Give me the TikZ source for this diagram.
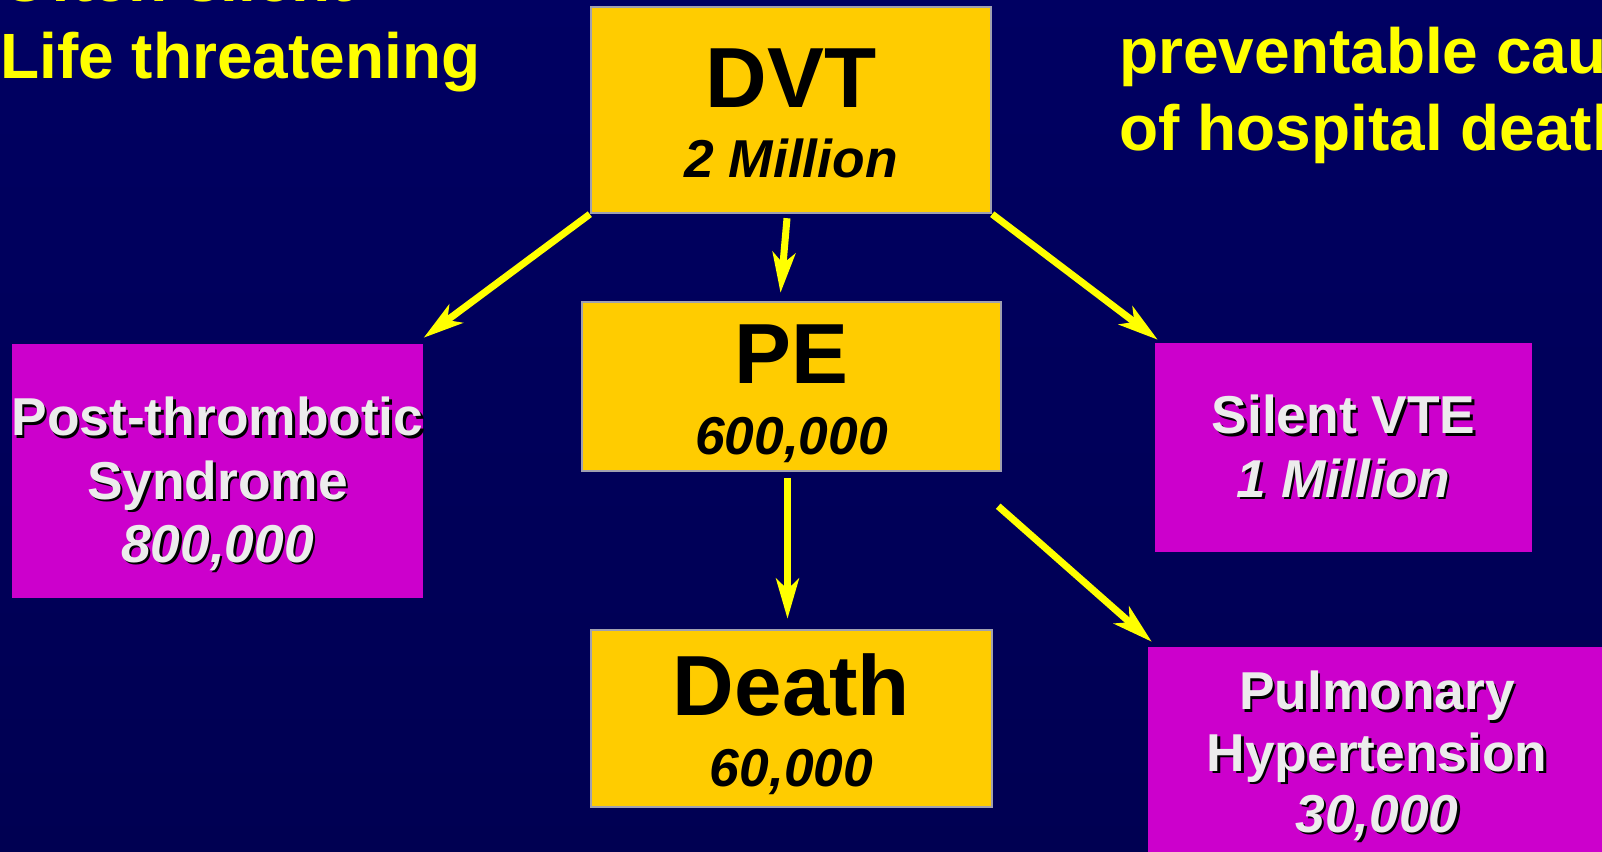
\documentclass[tikz,border=0pt]{standalone}
\usepackage{fontspec}
\setmainfont{Liberation Sans}
\usepackage{tikz}
\usepackage{xcolor}
\usetikzlibrary{arrows.meta}

\definecolor{bgtop}{RGB}{0,0,98}
\definecolor{bgbot}{RGB}{0,0,82}
\definecolor{boxyellow}{RGB}{255,204,0}
\definecolor{boxgray}{RGB}{160,160,176}
\definecolor{boxpink}{RGB}{204,0,204}
\definecolor{softwhite}{RGB}{236,236,236}
\definecolor{arrowyellow}{RGB}{255,255,0}

% struts keep the two lines of the yellow boxes where they should sit
\newcommand{\bigtxt}{\fontsize{64}{53}\selectfont\rule{0pt}{56.75pt}}
\newcommand{\numtxt}{\fontsize{40}{53}\selectfont\itshape\rule[-8pt]{0pt}{8pt}}
\newcommand{\shad}[1]{\makebox[0pt][l]{\hspace{1.8pt}\raisebox{-1.8pt}{\color{black}#1}}#1}

\begin{document}
\begin{tikzpicture}[x=0.75pt,y=-0.75pt,
    head/.style={text=arrowyellow, font=\bfseries\fontsize{48}{57.75}\selectfont, align=left, inner sep=0pt},
    yellowbox/.style={fill=boxyellow, draw=boxgray, line width=1.8pt, align=center, inner sep=0pt,
       text=black, font=\bfseries\fontsize{40}{53}\selectfont},
    pinkbox/.style={fill=boxpink, align=center, inner sep=0pt, text=softwhite,
       font=\bfseries\fontsize{40}{47.5}\selectfont},
    arr/.style={draw=arrowyellow, line width=5.25pt, -{Stealth[length=30pt,width=17pt,inset=8pt]}}]
    \useasboundingbox (0,0) rectangle (1602,852);
    \clip (0,0) rectangle (1602,852);
    \shade[top color=bgtop, bottom color=bgbot] (0,0) rectangle (1602,852);

    % headings, cut off by the frame
    \node[head, anchor=north west] (lefthead) at (0,-45) {Often silent\\Life threatening};
    \node[head, anchor=north west] (righthead) at (1119,27) {preventable cause\\of hospital death};

    \node[yellowbox, minimum width=300pt, minimum height=154.5pt] (dvt) at (791,110)
       {\bigtxt DVT\\\numtxt 2 Million};
    \node[yellowbox, minimum width=314.25pt, minimum height=126.75pt] (pe) at (791.5,386.5)
       {\bigtxt PE\\\numtxt 600,000};
    \node[yellowbox, minimum width=300.75pt, minimum height=132.75pt] (death) at (791.5,718.5)
       {\bigtxt Death\\\numtxt 60,000};

    \node[pinkbox, minimum width=308.25pt, minimum height=190.5pt] (pts) at (217.5,471)
       {\rule{0pt}{50pt}\shad{Post-thrombotic}\\\shad{Syndrome}\\\rule[-8pt]{0pt}{8pt}\shad{\itshape 800,000}};
    \node[pinkbox, minimum width=282.75pt, minimum height=156.75pt] (silent) at (1343.5,447.5)
       {\shad{Silent VTE}\\\shad{\itshape 1 Million}};
    \node[pinkbox, minimum width=343.5pt, minimum height=165pt,
       font=\bfseries\fontsize{40}{46}\selectfont] (ph) at (1377,757)
       {\shad{Pulmonary}\\\shad{Hypertension}\\\shad{\itshape 30,000}};

    \draw[arr] (dvt.south west) -- ([shift={(0,-6)}]pts.north east);
    \draw[arr] ([shift={(-4,4)}]dvt.south) -- ([shift={(-11,-8)}]pe.north);
    \draw[arr] (dvt.south east) -- ([shift={(3,-3)}]silent.north west);
    \draw[arr] ([shift={(-4,6)}]pe.south) -- ([shift={(-4,-10)}]death.north);
    \draw[arr] ([shift={(-4,34)}]pe.south east) -- ([shift={(4,-5)}]ph.north west);
\end{tikzpicture}
\end{document}
